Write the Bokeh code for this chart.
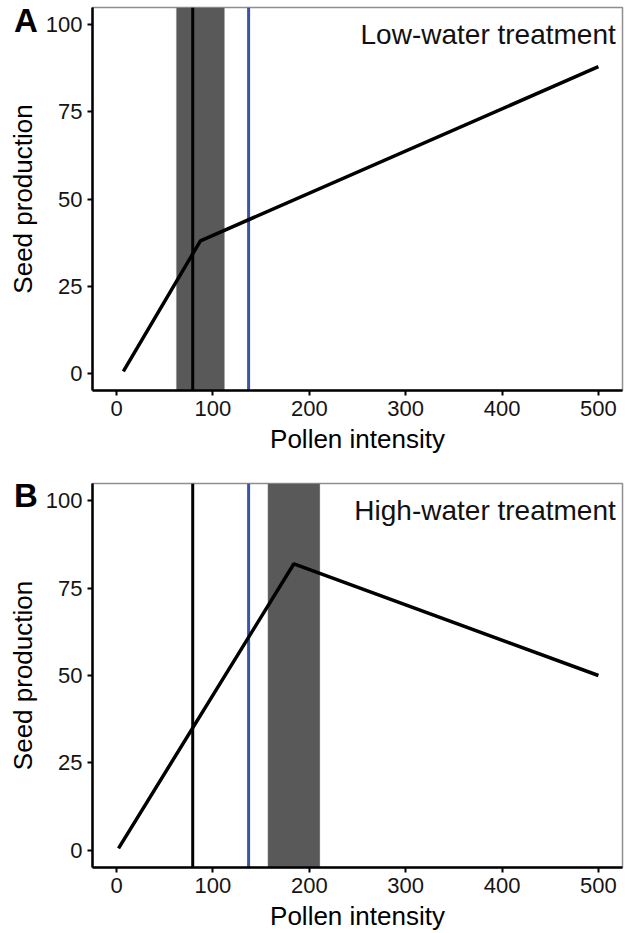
from bokeh.plotting import figure
from bokeh.models import BoxAnnotation, Span, Label, FixedTicker, Range1d, ColumnDataSource, Div
from bokeh.layouts import column
from bokeh.embed import file_html
from bokeh.resources import INLINE

# ---- data ----
x_ticks = [0, 100, 200, 300, 400, 500]
y_ticks = [0, 25, 50, 75, 100]

low_x = [7, 87, 500]
low_y = [0.5, 38, 88]
low_band = [62, 112]
high_x = [2, 184, 500]
high_y = [0.5, 82, 50]
high_band = [157, 211]
black_line = 79
blue_line = 137

panel_letters = ["A", "B"]
panel_titles = ["Low-water treatment", "High-water treatment"]

FONT = "Liberation Sans"
BLUE = "#3a55a6"


def make_panel(xs, ys, band, title, height, top, bottom):
    p = figure(width=627, height=height, output_backend="svg", toolbar_location=None,
               x_range=Range1d(-25, 525), y_range=Range1d(-5, 105),
               min_border_left=92, min_border_right=5,
               min_border_top=top, min_border_bottom=bottom)
    p.xgrid.visible = False
    p.ygrid.visible = False
    p.outline_line_color = "#8f8f8f"
    p.outline_line_width = 1.5
    p.background_fill_color = "white"
    p.border_fill_color = "white"

    for ax, ticks in ((p.xaxis[0], x_ticks), (p.yaxis[0], y_ticks)):
        ax.ticker = FixedTicker(ticks=ticks)
        ax.minor_tick_line_color = None
        ax.major_tick_in = 0
        ax.major_tick_out = 5
        ax.major_tick_line_width = 2
        ax.major_tick_line_color = "black"
        ax.axis_line_width = 2.5
        ax.axis_line_color = "black"
        ax.major_label_text_font = FONT
        ax.major_label_text_font_size = "22px"
        ax.major_label_text_color = "#141414"
        ax.major_label_standoff = 5
        ax.axis_label_text_font = FONT
        ax.axis_label_text_font_size = "26px"
        ax.axis_label_text_font_style = "normal"
        ax.axis_label_text_color = "black"
        ax.axis_label_standoff = 5
    p.xaxis.axis_label = "Pollen intensity"
    p.yaxis.axis_label = "Seed production"

    p.add_layout(BoxAnnotation(left=band[0], right=band[1], fill_color="#595959", fill_alpha=1,
                               line_color="#a8a8a8", line_width=1, level="underlay"))
    p.add_layout(Span(location=black_line, dimension="height", line_color="black",
                      line_width=3, level="underlay"))
    p.add_layout(Span(location=blue_line, dimension="height", line_color=BLUE,
                      line_width=3, level="underlay"))

    src = ColumnDataSource(dict(x=xs, y=ys))
    p.line("x", "y", source=src, line_color="black", line_width=3.5)

    p.add_layout(Label(x=518, y=97.3, text=title, text_align="right", text_baseline="alphabetic",
                       text_font=FONT, text_font_size="28px", text_color="#111111"))
    return p


def letter_div(letter, top_px):
    return Div(text=letter, styles={
        "position": "absolute", "left": "14px", "top": f"{top_px}px", "z-index": "10",
        "font-family": FONT, "font-size": "33px", "font-weight": "bold",
        "line-height": "33px", "color": "black", "margin": "0", "padding": "0"})


pa = make_panel(low_x, low_y, low_band, panel_titles[0], 475, 7, 85)
pb = make_panel(high_x, high_y, high_band, panel_titles[1], 458, 8, 66)

layout = column(pa, pb, letter_div(panel_letters[0], 4), letter_div(panel_letters[1], 479),
                spacing=0)
open("out.html", "w").write(file_html(layout, INLINE))
